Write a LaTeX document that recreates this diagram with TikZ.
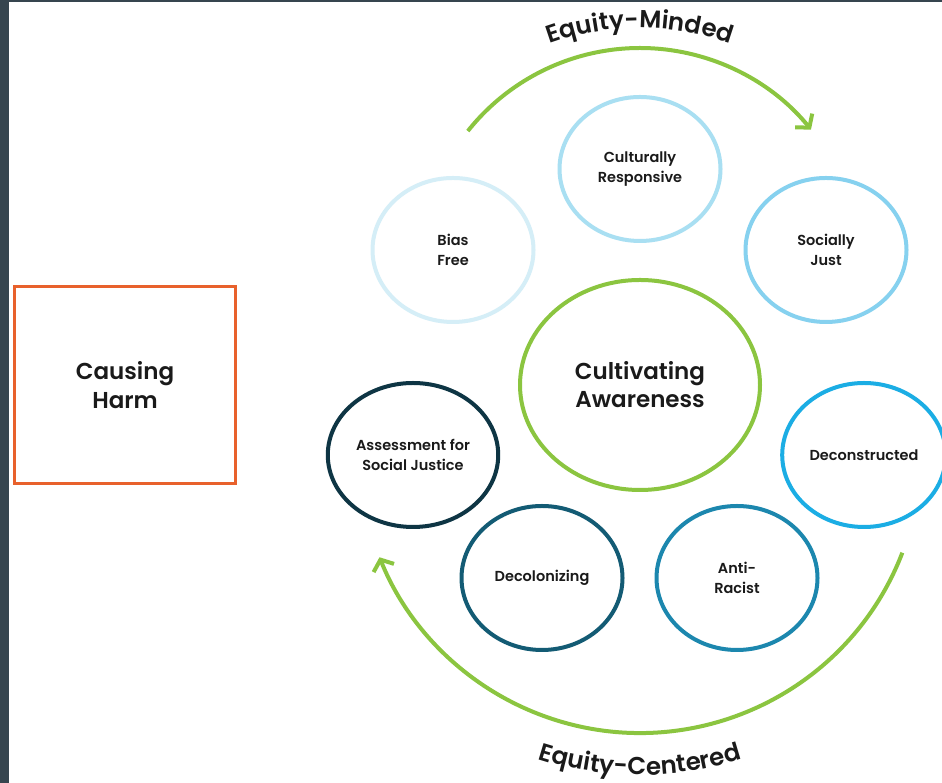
\documentclass[tikz,border=0pt]{standalone}
\usepackage{fontspec}
\setmainfont{Poppins}[BoldFont={* SemiBold}]
\usetikzlibrary{shapes.geometric, arrows.meta, decorations.text}

\definecolor{frame}{HTML}{36454F}
\definecolor{inkblack}{HTML}{1A1A1A}
\definecolor{harmorange}{HTML}{E8612C}
\definecolor{growgreen}{HTML}{8BC540}
\definecolor{blueA}{HTML}{D5EEF7}
\definecolor{blueB}{HTML}{A9DFF2}
\definecolor{blueC}{HTML}{86D1EF}
\definecolor{blueD}{HTML}{1BADE4}
\definecolor{blueE}{HTML}{1C87AE}
\definecolor{blueF}{HTML}{135B74}
\definecolor{blueG}{HTML}{0E3544}

\begin{document}
\begin{tikzpicture}[
    x=1pt, y=1pt,
    stage/.style={ellipse, draw, line width=4pt, minimum width=161pt, minimum height=144pt,
        align=center, text=inkblack, font=\fontsize{14.5}{20}\selectfont\bfseries},
    core/.style={stage, draw=growgreen, minimum width=240pt, minimum height=210pt,
        font=\fontsize{23}{28}\selectfont\bfseries},
    harmbox/.style={rectangle, draw=harmorange, line width=3pt, minimum width=221pt,
        minimum height=197pt, align=center, text=inkblack, font=\fontsize{23}{29}\selectfont\bfseries},
    cycle/.style={draw=growgreen, line width=4pt, -{Straight Barb[length=9pt, width=22pt, line width=4pt]}}
]

% Page and frame
\useasboundingbox (0,0) rectangle (942,783);
\fill[white] (0,0) rectangle (942,783);
\fill[frame] (0,0) rectangle (9,783);
\fill[frame] (0,781) rectangle (942,783);

% Harm box
\node[harmbox] (harm) at (125,398) {Causing\\Harm};

% Centre and ring of stages
\node[core] (aware) at (640,398) {Cultivating\\Awareness};
\node[stage, draw=blueA] (bias) at (453,533) {Bias\\Free};
\node[stage, draw=blueB] (resp) at (640,614) {Culturally\\Responsive};
\node[stage, draw=blueC] (just) at (826,533) {Socially\\Just};
\node[stage, draw=blueD] (decon) at (864,328) {Deconstructed};
\node[stage, draw=blueE] (anti) at (737,205) {Anti-\\Racist};
\node[stage, draw=blueF] (decol) at (542,205) {Decolonizing};
\node[stage, draw=blueG] (assess) at (413,328) {Assessment for\\Social Justice};

% Arrows round the ring
\coordinate (topmid) at (640,515);
\coordinate (lowmid) at (640,331);
\draw[cycle] ([shift={(141.5:220)}]topmid) arc[start angle=141.5, end angle=39, radius=220];
\draw[cycle] ([shift={(-21:281)}]lowmid) arc[start angle=-21, end angle=-158, radius=281];

% Curved titles
\coordinate (toptext) at (640,490);
\coordinate (lowtext) at (640,341);
\path[decorate, decoration={text along path, text align=center,
    text={|\fontsize{24.5}{24.5}\selectfont\bfseries\color{inkblack}|Equity-Minded}}]
    ([shift={(125:265)}]toptext) arc[start angle=125, end angle=55, radius=265];
\path[decorate, decoration={text along path, text align=center,
    text={|\fontsize{24.5}{24.5}\selectfont\bfseries\color{inkblack}|Equity-Centered}}]
    ([shift={(243:333)}]lowtext) arc[start angle=243, end angle=297, radius=333];

\end{tikzpicture}
\end{document}
